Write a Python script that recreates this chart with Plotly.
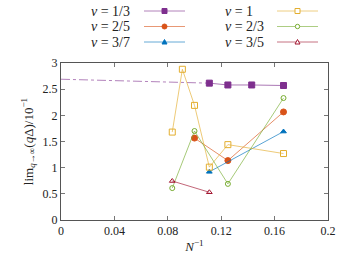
import plotly.graph_objects as go

# data: x = 1/N
x_13 = [1/9, 1/8, 1/7, 1/6]
y_13 = [2.615, 2.58, 2.58, 2.57]
fit_x_13 = [0.0, 1/9]
fit_y_13 = [2.69, 2.615]

x_1 = [1/12, 1/11, 1/10, 1/9, 1/8, 1/6]
y_1 = [1.68, 2.88, 2.19, 1.01, 1.44, 1.27]

x_25 = [1/10, 1/8, 1/6]
y_25 = [1.565, 1.135, 2.065]

x_23 = [1/12, 1/10, 1/8, 1/6]
y_23 = [0.61, 1.70, 0.69, 2.33]

x_37 = [1/9, 1/6]
y_37 = [0.92, 1.69]

x_35 = [1/12, 1/9]
y_35 = [0.745, 0.53]

legend_labels = ["1/3", "2/5", "3/7", "1", "2/3", "3/5"]

x_ticks = [0, 0.04, 0.08, 0.12, 0.16, 0.2]
x_tick_labels = ["0", "0.04", "0.08", "0.12", "0.16", "0.2"]
y_ticks = [0, 0.5, 1, 1.5, 2, 2.5, 3]
y_tick_labels = ["0", "0.5", "1", "1.5", "2", "2.5", "3"]

PURPLE = "#7E2F8E"
ORANGE = "#D95319"
BLUE = "#0072BD"
GOLD = "#E3AE2F"
GREEN = "#77AC30"
RED = "#A2142F"

SERIF = "Liberation Serif, DejaVu Serif, serif"

W, H = 355, 266
ML, MR, MT, MB = 61, 27, 63, 46
PW, PH = W - ML - MR, H - MT - MB

def px2paper(px, py):
    return (px - ML) / PW, (H - MB - py) / PH

def rgba(h, a):
    h = h.lstrip("#")
    r, g, b = int(h[0:2], 16), int(h[2:4], 16), int(h[4:6], 16)
    return f"rgba({r},{g},{b},{a})"

fig = go.Figure()

fig.add_trace(go.Scatter(x=fit_x_13, y=fit_y_13, mode="lines", showlegend=False,
                         line=dict(color=rgba(PURPLE, 0.6), width=1, dash="dashdot"),
                         hoverinfo="skip"))

series = [
    (legend_labels[0], x_13, y_13, PURPLE, "square", 6),
    (legend_labels[1], x_25, y_25, ORANGE, "circle", 6),
    (legend_labels[2], x_37, y_37, BLUE, "triangle-up", 5),
    (legend_labels[3], x_1, y_1, GOLD, "square-open", 6),
    (legend_labels[4], x_23, y_23, GREEN, "circle-open", 5),
    (legend_labels[5], x_35, y_35, RED, "triangle-up-open", 5),
]
for lab, xs, ys, col, sym, sz in series:
    fig.add_trace(go.Scatter(
        x=xs, y=ys, name="ν = " + lab, mode="lines+markers", showlegend=False,
        line=dict(color=rgba(col, 0.65), width=1),
        marker=dict(color=col, symbol=sym, size=sz, line=dict(color=col, width=1)),
    ))

# manual gnuplot-style legend (text then sample line with marker)
row_y = [11, 26.5, 42]
cols = [
    dict(text_x=89, line_x0=144, line_x1=185),
    dict(text_x=223, line_x0=277, line_x1=318),
]
shapes = []
annotations = []
for i, (lab, xs, ys, col, sym, sz) in enumerate(series):
    c = cols[i // 3]
    py = row_y[i % 3]
    tx, ty = px2paper(c["text_x"], py)
    annotations.append(dict(
        x=tx, y=ty, xref="paper", yref="paper", xanchor="left", yanchor="middle",
        text="<i>ν</i> = " + lab, showarrow=False,
        font=dict(family=SERIF, size=14, color="#222222")))
    lx0, ly = px2paper(c["line_x0"], py)
    lx1, _ = px2paper(c["line_x1"], py)
    shapes.append(dict(type="line", xref="paper", yref="paper", x0=lx0, x1=lx1, y0=ly, y1=ly,
                       line=dict(color=rgba(col, 0.6), width=1)))
    mx, _ = px2paper((c["line_x0"] + c["line_x1"]) / 2, py)
    filled = "open" not in sym
    fill = col if filled else "white"
    base = dict(xref="paper", yref="paper", xsizemode="pixel", ysizemode="pixel",
                xanchor=mx, yanchor=ly, fillcolor=fill, line=dict(color=col, width=1))
    if sym.startswith("square"):
        shapes.append(dict(type="rect", x0=-2.5, x1=2.5, y0=-2.5, y1=2.5, **base))
    elif sym.startswith("circle"):
        r = 2.5 if filled else 2.2
        shapes.append(dict(type="circle", x0=-r, x1=r, y0=-r, y1=r, **base))
    else:
        shapes.append(dict(type="path", path="M -2.5,-2 L 2.5,-2 L 0,2.5 Z", **base))

axis_common = dict(
    showline=True, linecolor="#555555", linewidth=1, mirror="ticks",
    ticks="inside", ticklen=4, tickcolor="#777777", showgrid=False, zeroline=False,
    tickfont=dict(family=SERIF, size=12, color="#222222"),
)

fig.update_layout(
    width=W, height=H,
    margin=dict(l=ML, r=MR, t=MT, b=MB, autoexpand=False),
    paper_bgcolor="white", plot_bgcolor="white",
    font=dict(family=SERIF, size=12, color="#222222"),
    xaxis=dict(range=[0, 0.2], tickvals=x_ticks, ticktext=x_tick_labels,
               title=dict(text="<i>N</i><sup>−1</sup>", font=dict(family=SERIF, size=13), standoff=4),
               automargin=False, **axis_common),
    yaxis=dict(range=[0, 3], tickvals=y_ticks, ticktext=y_tick_labels,
               title=dict(text="lim<sub><i>q</i>→∞</sub>(<i>q</i>Δ)/10<sup>−1</sup>",
                          font=dict(family=SERIF, size=13), standoff=6),
               automargin=False, **axis_common),
    shapes=shapes,
    annotations=annotations,
    showlegend=False,
)

fig.write_html("out.html", config={"displayModeBar": False},
               post_script="document.body.style.margin='0';")
